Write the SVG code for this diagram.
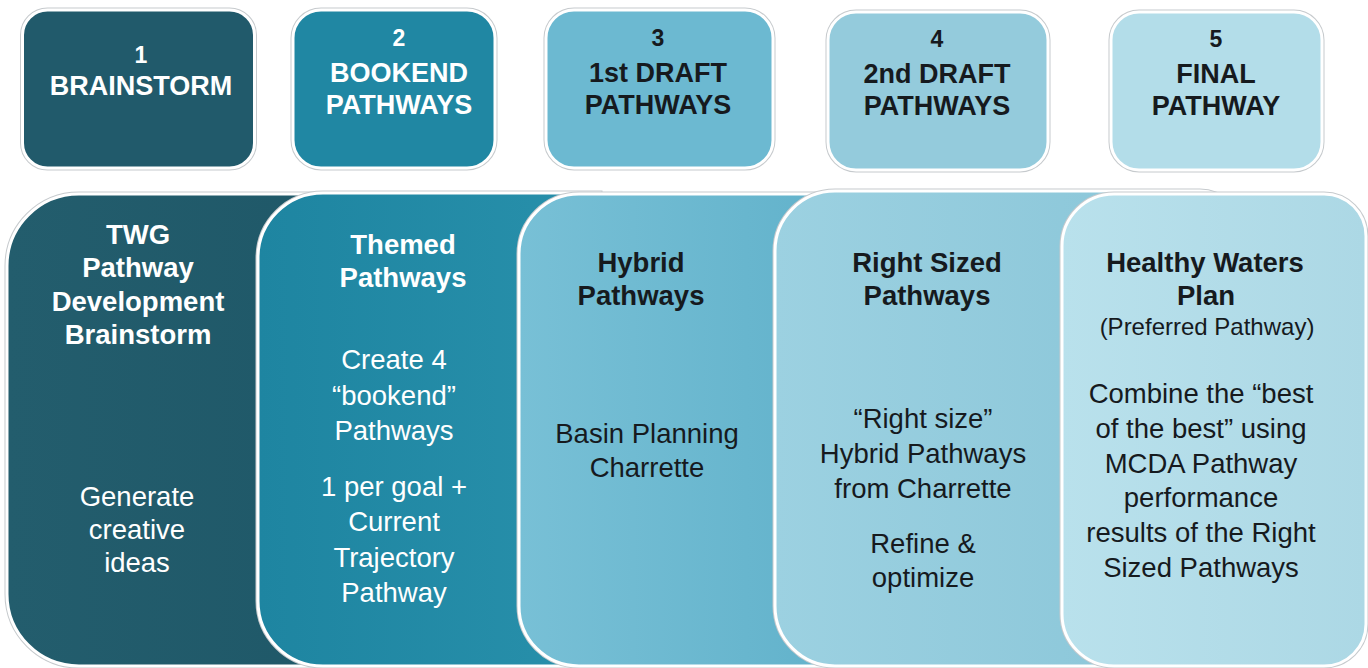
<svg xmlns="http://www.w3.org/2000/svg" width="1368" height="668" viewBox="0 0 1368 668">
  <defs>
    <style>
      text { font-family: "Liberation Sans", Arial, sans-serif; text-anchor: middle; }
      .hd { font-weight: bold; font-size: 27.5px; }
      .tt { font-weight: bold; font-size: 27px; }
      .num { font-weight: bold; font-size: 23px; }
      .bd { font-size: 27.5px; }
      .sm { font-size: 24px; }
      .lt { fill: #ffffff; }
      .dk { fill: #161a1e; }
      .edge { fill: none; stroke: #c6cacd; stroke-width: 5; }
      .shape { stroke: #ffffff; stroke-width: 3; }
    </style>
    <linearGradient id="g1" x1="0" y1="0" x2="1" y2="0">
      <stop offset="0" stop-color="#235d6d"/>
      <stop offset="1" stop-color="#1f5868"/>
    </linearGradient>
    <linearGradient id="g2" x1="0" y1="0" x2="1" y2="0">
      <stop offset="0" stop-color="#1e85a1"/>
      <stop offset="1" stop-color="#2890ab"/>
    </linearGradient>
    <linearGradient id="g3" x1="0" y1="0" x2="1" y2="0">
      <stop offset="0" stop-color="#78c0d6"/>
      <stop offset="1" stop-color="#60b1ca"/>
    </linearGradient>
    <linearGradient id="g4" x1="0" y1="0" x2="1" y2="0">
      <stop offset="0" stop-color="#9cd1e1"/>
      <stop offset="1" stop-color="#87c4d7"/>
    </linearGradient>
    <linearGradient id="g5" x1="0" y1="0" x2="1" y2="0">
      <stop offset="0" stop-color="#b9e1ec"/>
      <stop offset="1" stop-color="#acd8e5"/>
    </linearGradient>
    <!-- stage panel outlines: rounded on the left, running on under the next stage -->
    <path id="p1" d="M79,194 H350 V666 H79 A72,72 0 0 1 7,594 V266 A72,72 0 0 1 79,194 Z"/>
    <path id="p2" d="M323,193 H600 V666 H323 A65,65 0 0 1 258,601 V258 A65,65 0 0 1 323,193 Z"/>
    <path id="p3" d="M579,194 H860 V666 H579 A60,60 0 0 1 519,606 V254 A60,60 0 0 1 579,194 Z"/>
    <path id="p4" d="M835,191 H1200 A40,40 0 0 1 1240,231 V666 H835 A60,60 0 0 1 775,606 V251 A60,60 0 0 1 835,191 Z"/>
    <path id="p5" d="M1114,194 H1324 A42,42 0 0 1 1366,236 V624 A42,42 0 0 1 1324,666 H1114 A52,52 0 0 1 1062,614 V246 A52,52 0 0 1 1114,194 Z"/>
  </defs>

  <rect width="1368" height="668" fill="#ffffff"/>

  <!-- step headers -->
  <g id="step1">
    <rect class="edge" x="22.5" y="10" width="232" height="158" rx="25"/>
    <rect class="shape" x="22.5" y="10" width="232" height="158" rx="25" fill="#215a6b"/>
    <text class="num lt" x="141" y="63">1</text>
    <text class="tt lt" x="141" y="95">BRAINSTORM</text>
  </g>
  <g id="step2">
    <rect class="edge" x="293" y="10" width="202" height="158" rx="28"/>
    <rect class="shape" x="293" y="10" width="202" height="158" rx="28" fill="#2087a3"/>
    <text class="num lt" x="399" y="46">2</text>
    <text class="tt lt" x="399" y="82">BOOKEND</text>
    <text class="tt lt" x="399" y="114">PATHWAYS</text>
  </g>
  <g id="step3">
    <rect class="edge" x="546" y="10" width="227" height="158" rx="28"/>
    <rect class="shape" x="546" y="10" width="227" height="158" rx="28" fill="#6cb9d1"/>
    <text class="num dk" x="658" y="46">3</text>
    <text class="tt dk" x="658" y="82">1st DRAFT</text>
    <text class="tt dk" x="658" y="114">PATHWAYS</text>
  </g>
  <g id="step4">
    <rect class="edge" x="828" y="12" width="220" height="158" rx="28"/>
    <rect class="shape" x="828" y="12" width="220" height="158" rx="28" fill="#94cbdc"/>
    <text class="num dk" x="937" y="47">4</text>
    <text class="tt dk" x="937" y="83">2nd DRAFT</text>
    <text class="tt dk" x="937" y="115">PATHWAYS</text>
  </g>
  <g id="step5">
    <rect class="edge" x="1111" y="12" width="211" height="158" rx="28"/>
    <rect class="shape" x="1111" y="12" width="211" height="158" rx="28" fill="#b3dde9"/>
    <text class="num dk" x="1216" y="47">5</text>
    <text class="tt dk" x="1216" y="83">FINAL</text>
    <text class="tt dk" x="1216" y="115">PATHWAY</text>
  </g>

  <!-- overlapping stage panels, drawn left to right -->
  <g id="panel1">
    <use href="#p1" class="edge"/>
    <use href="#p1" class="shape" fill="url(#g1)"/>
    <text class="hd lt" x="138" y="244">TWG</text>
    <text class="hd lt" x="138" y="277">Pathway</text>
    <text class="hd lt" x="138" y="311">Development</text>
    <text class="hd lt" x="138" y="344">Brainstorm</text>
    <text class="bd lt" x="137" y="506">Generate</text>
    <text class="bd lt" x="137" y="539">creative</text>
    <text class="bd lt" x="137" y="572">ideas</text>
  </g>
  <g id="panel2">
    <use href="#p2" class="edge"/>
    <use href="#p2" class="shape" fill="url(#g2)"/>
    <text class="hd lt" x="403" y="254">Themed</text>
    <text class="hd lt" x="403" y="287">Pathways</text>
    <text class="bd lt" x="394" y="369">Create 4</text>
    <text class="bd lt" x="394" y="405">“bookend”</text>
    <text class="bd lt" x="394" y="440">Pathways</text>
    <text class="bd lt" x="394" y="496">1 per goal +</text>
    <text class="bd lt" x="394" y="531">Current</text>
    <text class="bd lt" x="394" y="567">Trajectory</text>
    <text class="bd lt" x="394" y="602">Pathway</text>
  </g>
  <g id="panel3">
    <use href="#p3" class="edge"/>
    <use href="#p3" class="shape" fill="url(#g3)"/>
    <text class="hd dk" x="641" y="272">Hybrid</text>
    <text class="hd dk" x="641" y="305">Pathways</text>
    <text class="bd dk" x="647" y="443">Basin Planning</text>
    <text class="bd dk" x="647" y="477">Charrette</text>
  </g>
  <g id="panel4">
    <use href="#p4" class="edge"/>
    <use href="#p4" class="shape" fill="url(#g4)"/>
    <text class="hd dk" x="927" y="272">Right Sized</text>
    <text class="hd dk" x="927" y="305">Pathways</text>
    <text class="bd dk" x="923" y="428">“Right size”</text>
    <text class="bd dk" x="923" y="463">Hybrid Pathways</text>
    <text class="bd dk" x="923" y="498">from Charrette</text>
    <text class="bd dk" x="923" y="553">Refine &amp;</text>
    <text class="bd dk" x="923" y="587">optimize</text>
  </g>
  <g id="panel5">
    <use href="#p5" class="edge"/>
    <use href="#p5" class="shape" fill="url(#g5)"/>
    <text class="hd dk" x="1205" y="272">Healthy Waters</text>
    <text class="hd dk" x="1206" y="305">Plan</text>
    <text class="sm dk" x="1207" y="335">(Preferred Pathway)</text>
    <text class="bd dk" x="1201" y="403">Combine the “best</text>
    <text class="bd dk" x="1201" y="438">of the best” using</text>
    <text class="bd dk" x="1201" y="473">MCDA Pathway</text>
    <text class="bd dk" x="1201" y="507">performance</text>
    <text class="bd dk" x="1201" y="542">results of the Right</text>
    <text class="bd dk" x="1201" y="577">Sized Pathways</text>
  </g>

  <!-- the stages touch directly; no separate connectors are drawn -->
  <g id="connectors"/>
</svg>
